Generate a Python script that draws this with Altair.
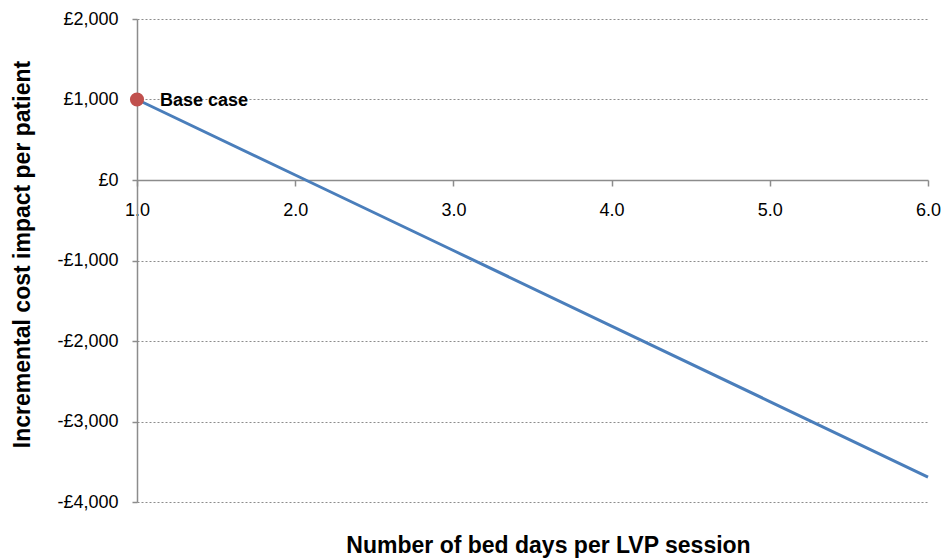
import altair as alt
import pandas as pd

bed_days = [1.0, 2.0, 3.0, 4.0, 5.0, 6.0]
cost_impact = [1000, 62, -876, -1814, -2752, -3690]
y_ticks = [-4000, -3000, -2000, -1000, 0, 1000, 2000]
base_x = [1.0]
base_y = [1000]
base_label = ["Base case"]

line_df = pd.DataFrame({"days": bed_days, "cost": cost_impact})
base_df = pd.DataFrame({"days": base_x, "cost": base_y, "label": base_label})

font = "Liberation Sans"
label_expr = "datum.value < 0 ? '-£' + format(-datum.value, ',') : '£' + format(datum.value, ',')"

x_enc = alt.X(
    "days:Q",
    scale=alt.Scale(domain=[1, 6], nice=False, zero=False),
    axis=alt.Axis(
        title="Number of bed days per LVP session",
        values=bed_days,
        format=".1f",
        offset=-322,
        grid=False,
        labelFlush=False,
        labelOverlap=False,
        domainColor="#8c8c8c",
        domainWidth=1.5,
        tickColor="#8c8c8c",
        tickWidth=1.5,
        tickSize=6,
        labelPadding=15,
        labelFont=font,
        labelFontSize=18,
        labelColor="#000000",
        titleFont=font,
        titleFontSize=23,
        titleFontWeight="bold",
        titleColor="#000000",
        titleX=411,
        titleY=372,
        titleAlign="center",
        titleBaseline="alphabetic",
    ),
)
y_enc = alt.Y(
    "cost:Q",
    scale=alt.Scale(domain=[-4000, 2000], nice=False),
    axis=alt.Axis(
        title="Incremental cost impact per patient",
        values=y_ticks,
        labelExpr=label_expr,
        grid=True,
        gridColor="#8c8c8c",
        gridDash=[2, 2],
        gridWidth=1,
        domainColor="#8c8c8c",
        domainWidth=1.5,
        tickColor="#8c8c8c",
        tickWidth=1.5,
        tickSize=5,
        labelPadding=14,
        labelFont=font,
        labelFontSize=18,
        labelColor="#000000",
        titleFont=font,
        titleFontSize=23,
        titleFontWeight="bold",
        titleColor="#000000",
        titleAngle=270,
        titleX=-115,
        titleY=235,
        titleAlign="center",
        titleBaseline="middle",
    ),
)

line = alt.Chart(line_df).mark_line(color="#4A7EBB", strokeWidth=3).encode(x=x_enc, y=y_enc)
point = alt.Chart(base_df).mark_circle(color="#C0504D", size=200, opacity=1).encode(x="days:Q", y="cost:Q")
text = alt.Chart(base_df).mark_text(
    align="left", baseline="middle", dx=23, dy=1, font=font, fontSize=18, fontWeight="bold", color="#000000"
).encode(x="days:Q", y="cost:Q", text="label:N")

chart = alt.layer(line, point, text).properties(
    width=791,
    height=483,
    autosize=alt.AutoSizeParams(type="none"),
    padding={"left": 129, "top": 11, "right": 13, "bottom": 58},
).configure_view(stroke=None)

chart.save("out.html", embed_options={"renderer": "svg", "actions": False})
